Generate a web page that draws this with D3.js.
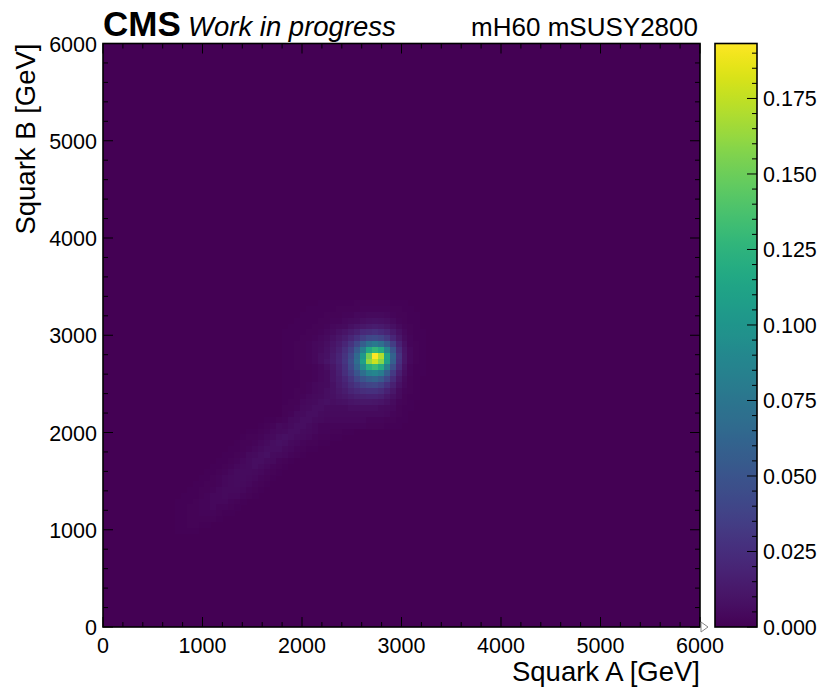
<!DOCTYPE html>
<html>
<head>
<meta charset="utf-8">
<script src="https://cdn.jsdelivr.net/npm/d3@7"></script>
<style>
  body { margin: 0; background: #fff; }
  text { font-family: "Liberation Sans", Arial, Helvetica, sans-serif; fill: #000; }
</style>
</head>
<body>
<svg id="chart" width="820" height="688"></svg>
<script>
// ---- histogram definition (GeV) ----
const axisRange = [0, 6000];
const binWidth = 60;                       // 100 x 100 bins
const xTicks = [0, 1000, 2000, 3000, 4000, 5000, 6000];
const yTicks = [0, 1000, 2000, 3000, 4000, 5000, 6000];
const minorStep = 200;
const colorMax = 0.1932;
const colorTicks = [0, 0.025, 0.05, 0.075, 0.1, 0.125, 0.15, 0.175];
const colorMinorStep = 0.005;
const valueUnit = 0.001;                   // bin contents below are in units of 1e-3

// Peak region: rows from y-bin 55 downwards, columns x-bin 30 .. 53
const peakXStart = 30;
const peakYTop = 55;
const peakRows = [
  [0,0,0,0,0,0,1,1,1,1,1,1,2,2,2,2,2,2,1,1,1,0,0,0],
  [0,0,0,0,1,1,1,1,1,2,2,2,2,3,3,3,3,3,2,2,1,1,0,0],
  [0,0,0,1,1,1,1,2,2,2,3,3,4,4,5,5,5,4,3,2,2,1,1,0],
  [0,0,1,1,1,1,2,2,3,3,4,5,6,7,8,9,8,7,5,3,2,1,1,0],
  [0,1,1,1,1,2,2,3,4,5,6,8,10,12,13,15,13,11,8,5,3,2,1,0],
  [1,1,1,1,2,2,3,4,6,8,10,13,17,22,24,26,23,19,13,8,4,2,1,1],
  [1,1,1,2,2,3,4,6,8,11,15,20,27,34,41,43,39,31,21,12,6,3,1,1],
  [1,1,2,2,3,4,5,7,10,14,20,28,40,57,72,78,70,54,34,18,8,3,2,1],
  [1,1,2,2,3,4,6,8,12,17,25,36,55,82,115,128,118,86,50,24,10,4,2,1],
  [1,1,2,2,3,4,7,9,13,19,28,42,65,102,152,193,170,110,60,28,11,4,2,1],
  [1,1,2,2,3,4,7,10,14,20,30,45,69,108,162,178,158,108,58,27,11,4,2,1],
  [1,1,2,2,2,3,4,7,11,18,27,42,62,93,123,131,118,82,46,22,9,3,1,1],
  [1,1,1,2,2,3,4,6,10,16,25,36,51,69,84,88,80,57,33,16,7,3,1,1],
  [1,1,1,2,2,3,4,6,10,15,21,29,40,50,57,60,53,40,24,12,5,2,1,0],
  [1,1,1,2,3,4,5,6,9,13,18,24,30,36,39,40,36,27,17,9,4,2,1,0],
  [1,1,2,2,3,4,5,7,9,12,15,19,22,25,27,27,24,18,12,6,3,2,1,0],
  [1,1,2,3,4,5,6,7,8,10,12,14,16,17,18,18,16,12,8,5,2,1,1,0],
  [1,2,2,4,5,6,7,8,7,8,9,10,11,12,12,11,10,8,6,3,2,1,0,0],
  [2,2,3,5,6,7,7,6,6,6,6,7,7,7,7,7,6,5,4,2,1,1,0,0],
  [2,3,5,6,7,7,6,5,5,5,5,5,5,5,5,5,5,4,3,2,1,0,0,0],
  [3,5,6,7,7,6,5,4,4,4,4,4,4,4,3,3,3,2,2,1,1,0,0,0],
  [4,6,7,7,6,4,3,3,3,3,3,3,3,3,2,2,2,1,1,1,0,0,0,0]
];

// Low-mass tail along the diagonal: [y-bin, first x-bin, contents]
const tailRows = [
  [35, 27, [1,1,2]],
  [34, 26, [1,2,3,5]],
  [33, 24, [1,1,2,3,4,5,6,7,7,6,5,4,3,3,2,2,1,1]],
  [32, 23, [1,2,2,3,4,5,7,8,7,6,5,4,3,2,2,1,1]],
  [31, 22, [1,2,2,3,4,6,7,8,7,5,4,3,2,2,1,1]],
  [30, 21, [1,1,2,3,4,6,7,7,7,5,4,3,2,1,1]],
  [29, 20, [1,1,2,3,5,6,7,8,6,5,4,3,2,1]],
  [28, 19, [1,1,2,3,4,6,7,7,6,5,3,2,1]],
  [27, 18, [1,1,2,3,4,5,6,7,6,4,3,2,1]],
  [26, 17, [1,1,2,3,4,6,6,6,5,4,3,2,1]],
  [25, 16, [1,1,2,3,4,5,6,6,5,4,3,2,1]],
  [24, 15, [1,1,2,2,3,4,5,6,5,4,3,2,1]],
  [23, 14, [1,1,2,2,3,4,5,5,5,4,3,2,1]],
  [22, 13, [1,1,1,2,3,4,4,5,4,4,3,2,1]],
  [21, 12, [1,1,1,2,3,3,4,4,4,3,2,1]],
  [20, 11, [0,1,1,2,2,3,3,4,3,3,2,1]],
  [19, 10, [0,0,1,1,2,2,3,3,3,2,1,1]],
  [18, 9,  [0,0,0,1,1,2,2,2,2,2,1]],
  [17, 8,  [0,0,0,0,1,1,2,2,1,1]],
  [16, 7,  [0,0,0,0,0,1,1,1,1]]
];

// ---- layout ----
const svg = d3.select("#chart");
const plot = { left: 103, right: 700, top: 43.5, bottom: 627 };
const cbar = { left: 715, right: 757 };

const x = d3.scaleLinear().domain(axisRange).range([plot.left, plot.right]);
const y = d3.scaleLinear().domain(axisRange).range([plot.bottom, plot.top]);
const color = v => d3.interpolateViridis(Math.min(1, v / colorMax));

// collect bins
const cells = [];
peakRows.forEach((row, i) => {
  row.forEach((v, j) => cells.push({ xb: peakXStart + j, yb: peakYTop - i, v: v * valueUnit }));
});
tailRows.forEach(([yb, xs, vals]) => {
  vals.forEach((v, j) => cells.push({ xb: xs + j, yb, v: v * valueUnit }));
});

// background = empty bins
svg.append("rect")
  .attr("x", plot.left).attr("y", plot.top)
  .attr("width", plot.right - plot.left).attr("height", plot.bottom - plot.top)
  .attr("fill", color(0));

svg.append("g").attr("shape-rendering", "crispEdges")
  .selectAll("rect").data(cells.filter(d => d.v > 0)).join("rect")
  .attr("x", d => x(d.xb * binWidth))
  .attr("y", d => y((d.yb + 1) * binWidth))
  .attr("width", d => x((d.xb + 1) * binWidth) - x(d.xb * binWidth) + 0.3)
  .attr("height", d => y(d.yb * binWidth) - y((d.yb + 1) * binWidth) + 0.3)
  .attr("fill", d => color(d.v));

// ---- ticks on all four sides (inward) ----
const majorLen = 10, minorLen = 5;
const minorVals = d3.range(axisRange[0], axisRange[1] + 1, minorStep).filter(v => v % 1000 !== 0);
const tg = svg.append("g").attr("stroke", "#000").attr("stroke-width", 1);
function ticksX(vals, len) {
  vals.forEach(v => {
    tg.append("line").attr("x1", x(v)).attr("x2", x(v)).attr("y1", plot.bottom).attr("y2", plot.bottom - len);
    tg.append("line").attr("x1", x(v)).attr("x2", x(v)).attr("y1", plot.top).attr("y2", plot.top + len);
  });
}
function ticksY(vals, len) {
  vals.forEach(v => {
    tg.append("line").attr("y1", y(v)).attr("y2", y(v)).attr("x1", plot.left).attr("x2", plot.left + len);
    tg.append("line").attr("y1", y(v)).attr("y2", y(v)).attr("x1", plot.right).attr("x2", plot.right - len);
  });
}
ticksX(xTicks, majorLen); ticksX(minorVals, minorLen);
ticksY(yTicks, majorLen); ticksY(minorVals, minorLen);

svg.append("rect")
  .attr("x", plot.left).attr("y", plot.top)
  .attr("width", plot.right - plot.left).attr("height", plot.bottom - plot.top)
  .attr("fill", "none").attr("stroke", "#000").attr("stroke-width", 1.6);

// tick labels
const fs = 21.5;
svg.append("g").selectAll("text").data(xTicks).join("text")
  .attr("x", d => x(d)).attr("y", plot.bottom + 26)
  .attr("text-anchor", "middle").attr("font-size", fs).text(d => d);
svg.append("g").selectAll("text").data(yTicks).join("text")
  .attr("x", plot.left - 6).attr("y", d => y(d) + 8)
  .attr("text-anchor", "end").attr("font-size", fs).text(d => d);

// overflow marker at the x-axis end
svg.append("path")
  .attr("d", `M${plot.right + 1},${plot.bottom - 5} L${plot.right + 8},${plot.bottom} L${plot.right + 1},${plot.bottom + 5} Z`)
  .attr("fill", "none").attr("stroke", "#888").attr("stroke-width", 1);

// axis titles
svg.append("text").attr("x", plot.right).attr("y", 681)
  .attr("text-anchor", "end").attr("font-size", 27.5).text("Squark A [GeV]");
svg.append("text")
  .attr("transform", `translate(35,${plot.top}) rotate(-90)`)
  .attr("text-anchor", "end").attr("font-size", 27.5).text("Squark B [GeV]");

// header
svg.append("text").attr("x", plot.left).attr("y", 36)
  .attr("font-size", 35).attr("font-weight", "bold").text("CMS");
svg.append("text").attr("x", 188).attr("y", 36)
  .attr("font-size", 27.5).attr("font-style", "italic").text("Work in progress");
svg.append("text").attr("x", plot.right - 2).attr("y", 36)
  .attr("text-anchor", "end").attr("font-size", 26).text("mH60 mSUSY2800");

// ---- colour bar ----
const cy = d3.scaleLinear().domain([0, colorMax]).range([plot.bottom, plot.top]);
const defs = svg.append("defs");
const grad = defs.append("linearGradient").attr("id", "vir")
  .attr("x1", 0).attr("y1", 1).attr("x2", 0).attr("y2", 0);
grad.selectAll("stop").data(d3.range(0, 1.0001, 0.02)).join("stop")
  .attr("offset", d => d).attr("stop-color", d => d3.interpolateViridis(d));
svg.append("rect")
  .attr("x", cbar.left).attr("y", plot.top)
  .attr("width", cbar.right - cbar.left).attr("height", plot.bottom - plot.top)
  .attr("fill", "url(#vir)");

const cMinor = d3.range(0, colorMax, colorMinorStep).filter(v => Math.abs(v / 0.025 - Math.round(v / 0.025)) > 1e-6);
const cg = svg.append("g").attr("stroke", "#000").attr("stroke-width", 1);
colorTicks.forEach(v => cg.append("line").attr("x1", cbar.right).attr("x2", cbar.right - 10).attr("y1", cy(v)).attr("y2", cy(v)));
cMinor.forEach(v => cg.append("line").attr("x1", cbar.right).attr("x2", cbar.right - 5).attr("y1", cy(v)).attr("y2", cy(v)));

svg.append("rect")
  .attr("x", cbar.left).attr("y", plot.top)
  .attr("width", cbar.right - cbar.left).attr("height", plot.bottom - plot.top)
  .attr("fill", "none").attr("stroke", "#000").attr("stroke-width", 1.6);

svg.append("g").selectAll("text").data(colorTicks).join("text")
  .attr("x", cbar.right + 6).attr("y", d => cy(d) + 8)
  .attr("font-size", fs).text(d => d3.format(".3f")(d));
</script>
</body>
</html>
